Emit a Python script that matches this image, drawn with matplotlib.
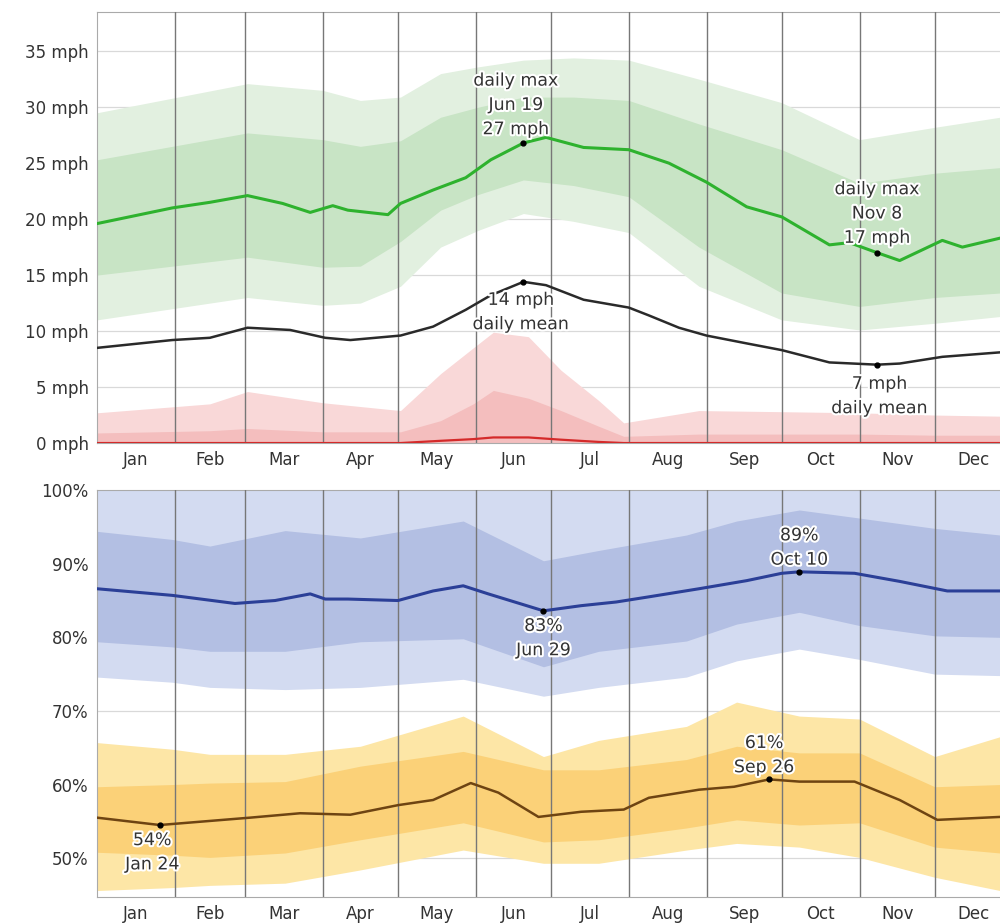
import numpy as np
import matplotlib
matplotlib.use("Agg")
import matplotlib.pyplot as plt
import matplotlib.patheffects as pe

# month layout
months = ["Jan", "Feb", "Mar", "Apr", "May", "Jun", "Jul", "Aug", "Sep", "Oct", "Nov", "Dec"]
month_starts = [0, 31, 59, 90, 120, 151, 181, 212, 243, 273, 304, 334, 365]

# ---- wind speed (mph) ----
wind_max_days = [0, 15, 30, 45, 60, 74, 85, 94, 100, 116, 121, 134, 147, 157, 170, 179,
                 194, 212, 228, 243, 259, 273, 292, 300, 311, 320, 337, 345, 360]
wind_max = [19.6, 20.3, 21.0, 21.5, 22.1, 21.4, 20.6, 21.2, 20.8, 20.4, 21.4, 22.6, 23.7, 25.3, 26.8, 27.3,
            26.4, 26.2, 25.0, 23.3, 21.1, 20.2, 17.7, 17.9, 17.0, 16.3, 18.1, 17.5, 18.3]

wind_mean_days = [0, 30, 45, 60, 77, 91, 101, 121, 134, 147, 157, 170, 179, 194, 212, 220,
                  232, 243, 259, 273, 292, 311, 320, 337, 360]
wind_mean = [8.5, 9.2, 9.4, 10.3, 10.1, 9.4, 9.2, 9.6, 10.4, 11.9, 13.2, 14.4, 14.1, 12.8, 12.1, 11.4,
             10.3, 9.6, 8.9, 8.3, 7.2, 7.0, 7.1, 7.7, 8.1]

green_days = [0, 30, 60, 90, 105, 121, 137, 152, 170, 190, 212, 240, 273, 304, 334, 360]
green_p90 = [29.5, 30.8, 32.1, 31.5, 30.6, 30.9, 33.0, 33.6, 34.2, 34.4, 34.2, 32.5, 30.4, 27.1, 28.2, 29.1]
green_p75 = [25.3, 26.5, 27.7, 27.1, 26.5, 27.0, 29.1, 30.0, 30.9, 30.9, 30.6, 28.5, 26.2, 23.2, 24.1, 24.6]
green_p25 = [15.0, 15.8, 16.6, 15.7, 15.8, 18.0, 20.8, 22.2, 23.5, 23.0, 22.0, 17.5, 13.4, 12.2, 13.0, 13.4]
green_p10 = [11.0, 12.0, 13.0, 12.3, 12.5, 14.0, 17.5, 19.0, 20.5, 19.8, 18.8, 14.0, 11.0, 10.1, 10.7, 11.3]

red_days = [0, 45, 60, 90, 121, 137, 150, 158, 172, 185, 200, 210, 240, 273, 304, 334, 360]
red_p90 = [2.7, 3.5, 4.6, 3.6, 2.9, 6.2, 8.5, 9.9, 9.5, 6.5, 3.8, 1.8, 2.9, 2.8, 2.7, 2.5, 2.4]
red_p75 = [0.9, 1.1, 1.3, 1.0, 1.0, 2.0, 3.5, 4.7, 4.0, 2.9, 1.5, 0.6, 0.8, 0.8, 0.8, 0.7, 0.7]
red_mid = [0.0, 0.0, 0.0, 0.0, 0.0, 0.2, 0.35, 0.5, 0.5, 0.3, 0.1, 0.0, 0.0, 0.0, 0.0, 0.0, 0.0]

# ---- humidity (%) ----
blue_line_days = [0, 30, 55, 71, 85, 91, 100, 120, 134, 146, 156, 178, 193, 207, 220, 240,
                  259, 273, 280, 302, 320, 339, 360]
blue_line = [86.6, 85.7, 84.6, 85.0, 85.9, 85.2, 85.2, 85.0, 86.3, 87.0, 85.9, 83.6, 84.3, 84.8, 85.5, 86.6,
             87.7, 88.7, 88.9, 88.7, 87.6, 86.3, 86.3]

orange_line_days = [0, 25, 61, 81, 101, 120, 134, 149, 160, 176, 193, 210, 220, 240, 254, 268,
                    280, 302, 320, 335, 360]
orange_line = [55.5, 54.5, 55.5, 56.1, 55.9, 57.2, 57.9, 60.2, 58.9, 55.6, 56.3, 56.6, 58.2, 59.3, 59.7, 60.7,
               60.4, 60.4, 57.9, 55.2, 55.6]

hum_days = [0, 30, 45, 75, 105, 146, 178, 200, 235, 255, 280, 304, 334, 360]
blue_p75 = [94.4, 93.3, 92.4, 94.5, 93.5, 95.8, 90.4, 91.8, 93.9, 95.8, 97.3, 96.2, 94.8, 93.9]
blue_p25 = [79.4, 78.7, 78.1, 78.1, 79.4, 79.8, 76.0, 78.1, 79.5, 81.8, 83.4, 81.6, 80.2, 80.0]
blue_p10 = [74.6, 73.9, 73.2, 72.9, 73.2, 74.3, 72.0, 73.2, 74.6, 76.8, 78.4, 77.0, 75.0, 74.8]
orange_p90 = [65.7, 64.8, 64.1, 64.1, 65.2, 69.3, 63.8, 66.0, 67.9, 71.2, 69.3, 68.9, 63.8, 66.5]
orange_p75 = [59.7, 60.0, 60.2, 60.4, 62.5, 64.5, 62.0, 62.0, 63.4, 65.2, 64.3, 64.3, 59.7, 60.0]
orange_p25 = [50.8, 50.4, 50.1, 50.7, 52.5, 54.8, 52.2, 52.5, 54.1, 55.2, 54.5, 54.8, 51.5, 50.7]
orange_p10 = [45.6, 46.0, 46.3, 46.6, 48.4, 51.1, 49.3, 49.3, 51.1, 52.0, 51.5, 50.1, 47.4, 45.6]

TEXT = "#333333"
halo = [pe.withStroke(linewidth=3, foreground="white")]


def style_axis(ax, yticks, ylabels, ylim):
    ax.set_xlim(0, 360)
    ax.set_ylim(*ylim)
    ax.set_yticks(yticks)
    ax.set_yticklabels(ylabels, fontsize=12, color=TEXT)
    ax.set_xticks(month_starts[1:-1])
    ax.set_xticklabels([])
    mids = [(a + b) / 2 for a, b in zip(month_starts[:-1], month_starts[1:])]
    ax.set_xticks(mids, minor=True)
    ax.set_xticklabels(months, minor=True, fontsize=12, color=TEXT)
    ax.tick_params(axis="both", which="both", length=0)
    ax.tick_params(axis="x", which="minor", pad=6)
    ax.tick_params(axis="y", pad=6)
    for y in yticks:
        ax.axhline(y, color="#d9d9d9", lw=0.9, zorder=0.5)
    for d in month_starts[1:-1]:
        ax.axvline(d, color="#777777", lw=1.0, zorder=3)
    for s in ["top", "left", "bottom"]:
        ax.spines[s].set_color("#aaaaaa")
    ax.spines["right"].set_visible(False)


def note(ax, x, y, s):
    ax.text(x, y, s, ha="center", va="center", fontsize=12.5, color=TEXT,
            linespacing=1.45, zorder=6, path_effects=halo)


fig = plt.figure(figsize=(10, 9.23), dpi=100)
ax1 = fig.add_axes([0.097, 0.520, 0.903, 0.467])
ax2 = fig.add_axes([0.097, 0.028, 0.903, 0.441])

# wind panel
ax1.fill_between(green_days, green_p10, green_p90, color="#e2f0e0", lw=0, zorder=1)
ax1.fill_between(green_days, green_p25, green_p75, color="#c8e4c5", lw=0, zorder=1.1)
ax1.fill_between(red_days, 0, red_p90, color="#f9d8d8", lw=0, zorder=1)
ax1.fill_between(red_days, 0, red_p75, color="#f4bebe", lw=0, zorder=1.1)
ax1.plot(red_days, red_mid, color="#d42a2a", lw=1.6, zorder=4)
ax1.plot(wind_max_days, wind_max, color="#2eb22e", lw=2.2, zorder=4)
ax1.plot(wind_mean_days, wind_mean, color="#2a2a2a", lw=1.8, zorder=4)
for x, y in [(170, 26.8), (170, 14.4), (311, 17.0), (311, 7.0)]:
    ax1.plot(x, y, "o", color="black", ms=3.5, zorder=5)
note(ax1, 167, 30.2, "daily max\nJun 19\n27 mph")
note(ax1, 169, 11.7, "14 mph\ndaily mean")
note(ax1, 311, 20.5, "daily max\nNov 8\n17 mph")
note(ax1, 312, 4.2, "7 mph\ndaily mean")
style_axis(ax1, list(range(0, 40, 5)), [f"{v} mph" for v in range(0, 40, 5)], (0, 38.5))

# humidity panel
ax2.fill_between(hum_days, blue_p10, 100, color="#d3dbf1", lw=0, zorder=1)
ax2.fill_between(hum_days, blue_p25, blue_p75, color="#b3bfe3", lw=0, zorder=1.1)
ax2.fill_between(hum_days, orange_p10, orange_p90, color="#fde6a6", lw=0, zorder=1)
ax2.fill_between(hum_days, orange_p25, orange_p75, color="#fbd178", lw=0, zorder=1.1)
ax2.plot(blue_line_days, blue_line, color="#2b3f97", lw=2.2, zorder=4)
ax2.plot(orange_line_days, orange_line, color="#6e4412", lw=1.8, zorder=4)
for x, y in [(25, 54.5), (178, 83.6), (280, 88.9), (268, 60.7)]:
    ax2.plot(x, y, "o", color="black", ms=3.5, zorder=5)
note(ax2, 22, 50.8, "54%\nJan 24")
note(ax2, 178, 79.9, "83%\nJun 29")
note(ax2, 280, 92.2, "89%\nOct 10")
note(ax2, 266, 64.0, "61%\nSep 26")
style_axis(ax2, list(range(50, 110, 10)), [f"{v}%" for v in range(50, 110, 10)], (44.7, 100))

plt.savefig("out.png", dpi=100)
plt.close()
